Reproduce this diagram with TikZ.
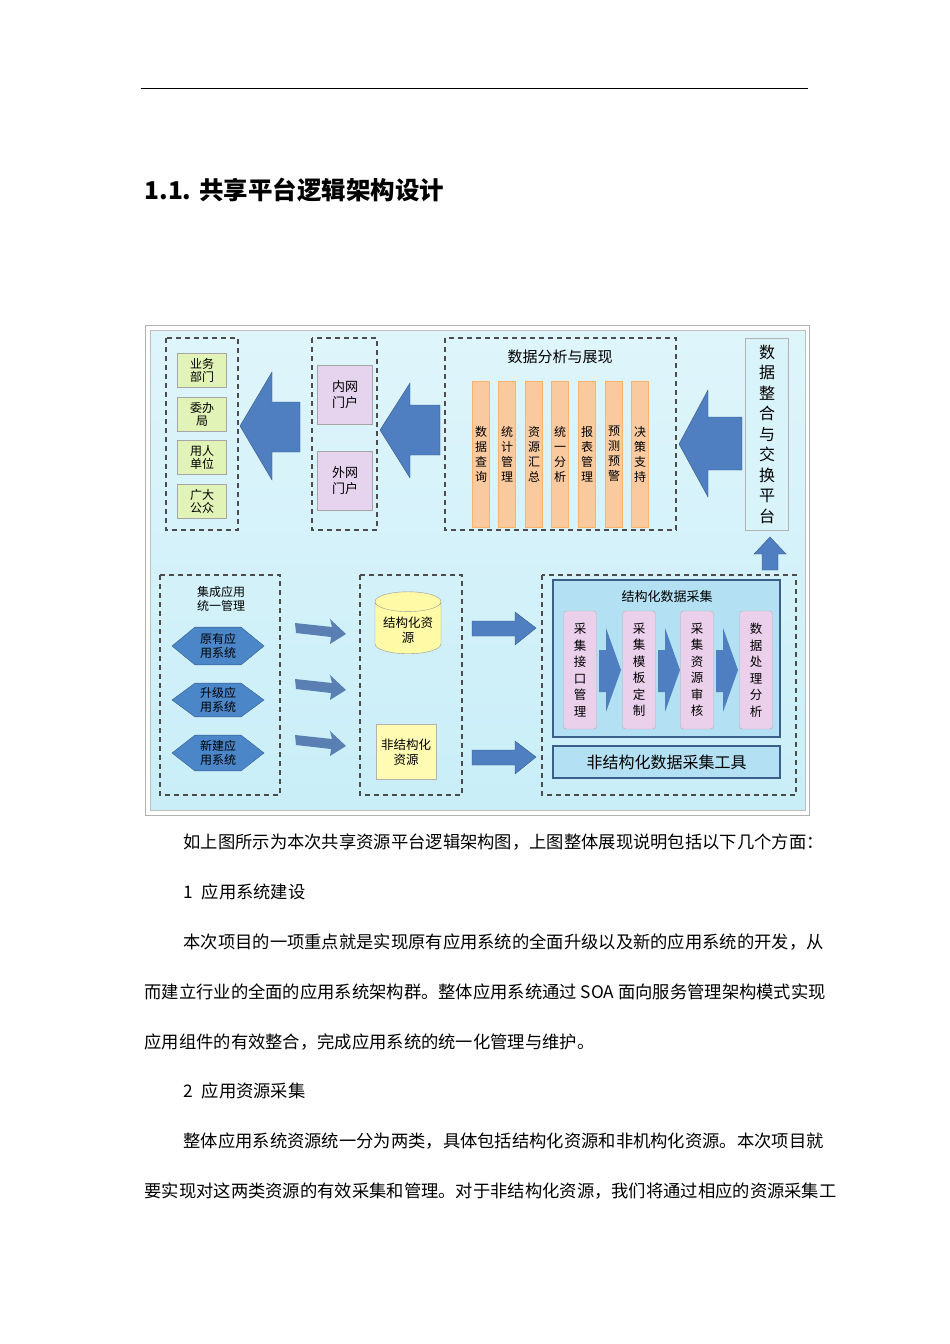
\documentclass[tikz,border=0pt]{standalone}
\usepackage{fontspec}
\setmainfont{Noto Sans CJK SC}
\usetikzlibrary{shapes.geometric,shapes.symbols}
\definecolor{bgblue}{HTML}{C9EEF8}
\definecolor{arrblue}{HTML}{4F7FC0}
\definecolor{greenbox}{HTML}{E2F3B8}
\definecolor{purplebox}{HTML}{E6D4EE}
\definecolor{orangebar}{HTML}{F9C9A0}
\definecolor{pinkbar}{HTML}{EBD0EC}
\definecolor{hexblue}{HTML}{4A86C8}
\definecolor{collfill}{HTML}{B3E0F2}
\definecolor{collline}{HTML}{3A5F8A}
\tikzset{
 dbox/.style={draw=black!70,dashed,line width=1.1pt,dash pattern=on 5pt off 4pt},
 gbox/.style={draw=black!35,fill=greenbox,minimum width=49pt,minimum height=34pt,inner sep=1pt,align=center,font=\fontsize{12}{13}\selectfont},
 pbox/.style={draw=black!35,fill=purplebox,minimum width=55pt,minimum height=59pt,align=center,font=\fontsize{13}{16}\selectfont},
 obar/.style={draw=orange!60,fill=orangebar,minimum width=17pt,minimum height=146pt,inner sep=0pt,align=center,font=\fontsize{12}{15}\selectfont},
 kbar/.style={draw=black!30,fill=pinkbar,rounded corners=3pt,minimum width=33pt,minimum height=118pt,inner sep=0pt,align=center,font=\fontsize{12.5}{16.5}\selectfont},
 bigarr/.style={fill=arrblue,draw=arrblue!70!black,line width=0.4pt},
 hexa/.style={regular polygon,regular polygon sides=6,shape aspect=1,fill=hexblue,draw=hexblue!70!black,inner sep=0pt},
 btxt/.style={anchor=west,font=\fontsize{17.3}{19}\selectfont},
 dtxt/.style={font=\fontsize{12}{14}\selectfont,align=center}
}
\begin{document}
\begin{tikzpicture}[x=1pt,y=-1pt]
\useasboundingbox (0,0) rectangle (950,1344);
\fill[white] (0,0) rectangle (950,1344);
% header rule and title
\draw[line width=0.8pt] (141,88) -- (808,88);
\node[anchor=west,font=\fontsize{24.5}{27}\selectfont\bfseries] (title) at (141,190) {1.1. 共享平台逻辑架构设计};
% diagram frame
\draw[black!30,fill=white] (145,325) rectangle (809,815);
\shade[top color=bgblue!60, bottom color=bgblue, draw=black!25] (150,330) rectangle (805,810);
% top-left group
\draw[dbox] (166,338) rectangle (238,530);
\node[gbox] (g1) at (202,370) {业务\\部门};
\node[gbox] (g2) at (202,414) {委办\\局};
\node[gbox] (g3) at (202,457) {用人\\单位};
\node[gbox] (g4) at (202,501) {广大\\公众};
% arrow 1
\draw[bigarr] (240,426) -- (272,372) -- (272,402) -- (300,402) -- (300,452) -- (272,452) -- (272,480) -- cycle;
% portals
\draw[dbox] (312,338) rectangle (377,530);
\node[pbox] (p1) at (345,395) {内网\\门户};
\node[pbox] (p2) at (345,481) {外网\\门户};
% arrow 2
\draw[bigarr] (380,430) -- (410,383) -- (410,405) -- (440,405) -- (440,455) -- (410,455) -- (410,478) -- cycle;
% analysis group
\draw[dbox] (445,338) rectangle (676,530);
\node[font=\fontsize{15}{17}\selectfont] (at) at (560,357) {数据分析与展现};
\node[obar] (o1) at (481,454) {数\\据\\查\\询};
\node[obar] (o2) at (507,454) {统\\计\\管\\理};
\node[obar] (o3) at (534,454) {资\\源\\汇\\总};
\node[obar] (o4) at (560,454) {统\\一\\分\\析};
\node[obar] (o5) at (587,454) {报\\表\\管\\理};
\node[obar] (o6) at (614,454) {预\\测\\预\\警};
\node[obar] (o7) at (640,454) {决\\策\\支\\持};
% arrow 3
\draw[bigarr] (679,444) -- (708,390) -- (708,417) -- (742,417) -- (742,470) -- (708,470) -- (708,497) -- cycle;
% platform
\node[draw=black!30,fill=bgblue!70,minimum width=43pt,minimum height=192pt,align=center,inner sep=0pt,font=\fontsize{16}{20.5}\selectfont] (plat) at (767,434) {数\\据\\整\\合\\与\\交\\换\\平\\台};
% up arrow
\draw[bigarr] (770,537) -- (786,554) -- (778,554) -- (778,570) -- (762,570) -- (762,554) -- (754,554) -- cycle;
% bottom-left group
\draw[dbox] (160,575) rectangle (280,795);
\node[dtxt] (it) at (221,599) {集成应用\\统一管理};
\node[hexa,minimum size=46pt,xscale=2,yscale=0.95] (h1) at (218,646) {};
\node[hexa,minimum size=46pt,xscale=2,yscale=0.85] (h2) at (218,700) {};
\node[hexa,minimum size=46pt,xscale=2,yscale=0.9] (h3) at (218,753) {};
\node[dtxt] at (h1) {原有应\\用系统};
\node[dtxt] at (h2) {升级应\\用系统};
\node[dtxt] at (h3) {新建应\\用系统};
% small arrows
\foreach \yy in {630,686,742}{
 \fill[arrblue!80!gray] (295,\yy-7) -- (332,\yy-3) -- (330,\yy-11) -- (346,\yy+4) -- (330,\yy+14) -- (331,\yy+7) -- (296,\yy+3) -- cycle;
}
% resources
\draw[dbox] (360,575) rectangle (462,795);
\node[cylinder,shape border rotate=90,aspect=0.35,draw=black!40,fill=yellow!35,minimum width=66pt,minimum height=62pt,dtxt,font=\fontsize{12.5}{15}\selectfont] (cyl) at (408,630) {结构化资\\源};
\node[draw=black!30,fill=yellow!30,minimum width=60pt,minimum height=55pt,dtxt,font=\fontsize{12.5}{15}\selectfont] (doc) at (406,752) {非结构化\\资源};
% blue arrows
\draw[bigarr] (472,621) -- (515,621) -- (515,612) -- (536,628) -- (515,645) -- (515,636) -- (472,636) -- cycle;
\draw[bigarr] (472,750) -- (515,750) -- (515,741) -- (536,757) -- (515,774) -- (515,765) -- (472,765) -- cycle;
% collection group
\draw[dbox] (542,575) rectangle (796,795);
\draw[draw=collline,line width=1.3pt,fill=collfill] (553,580) rectangle (780,737);
\node[font=\fontsize{13}{15}\selectfont] (ct) at (667,597) {结构化数据采集};
\node[kbar] (k1) at (580,670) {采\\集\\接\\口\\管\\理};
\node[kbar] (k2) at (639,670) {采\\集\\模\\板\\定\\制};
\node[kbar] (k3) at (697,670) {采\\集\\资\\源\\审\\核};
\node[kbar] (k4) at (756,670) {数\\据\\处\\理\\分\\析};
\foreach \xx in {599,658,716}{
 \fill[arrblue] (\xx,650) -- (\xx+7,650) -- (\xx+7,628) -- (\xx+22,670) -- (\xx+7,712) -- (\xx+7,692) -- (\xx,692) -- cycle;
}
\node[draw=collline,line width=1.3pt,fill=collfill,minimum width=227pt,minimum height=32pt,font=\fontsize{16}{18}\selectfont] (tool) at (666.5,762) {非结构化数据采集工具};
% body text
\node[btxt] (t1) at (180,842) {如上图所示为本次共享资源平台逻辑架构图，上图整体展现说明包括以下几个方面：};
\node[btxt] (t2) at (180,892) {1\enspace 应用系统建设};
\node[btxt] (t3) at (180,942) {本次项目的一项重点就是实现原有应用系统的全面升级以及新的应用系统的开发，从};
\node[btxt] (t4) at (141,992) {而建立行业的全面的应用系统架构群。整体应用系统通过 SOA 面向服务管理架构模式实现};
\node[btxt] (t5) at (141,1042) {应用组件的有效整合，完成应用系统的统一化管理与维护。};
\node[btxt] (t6) at (180,1091) {2\enspace 应用资源采集};
\node[btxt] (t7) at (180,1141) {整体应用系统资源统一分为两类，具体包括结构化资源和非机构化资源。本次项目就};
\node[btxt] (t8) at (141,1191) {要实现对这两类资源的有效采集和管理。对于非结构化资源，我们将通过相应的资源采集工};
\end{tikzpicture}
\end{document}
